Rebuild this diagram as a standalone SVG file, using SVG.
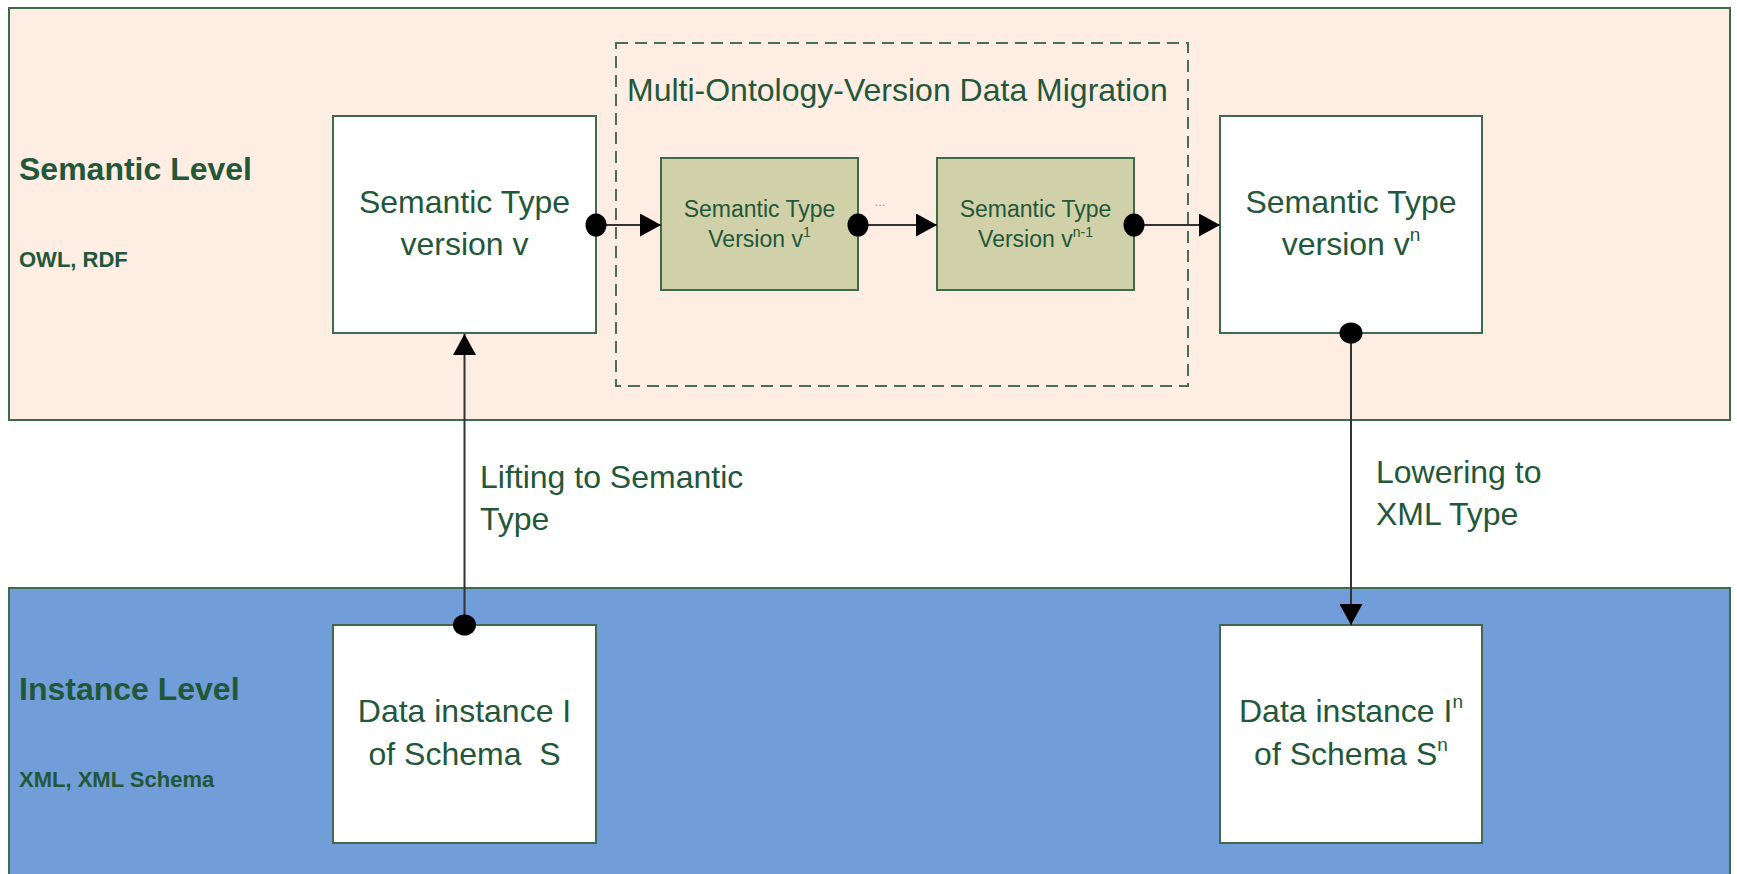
<svg xmlns="http://www.w3.org/2000/svg" width="1737" height="874" viewBox="0 0 1737 874">
<style>
.panel{stroke:#3f6a4c;stroke-width:2}
.box{fill:#ffffff;stroke:#3f6a4c;stroke-width:2}
.gbox{fill:#d1d1a9;stroke:#3f6a4c;stroke-width:2}
.t{font-family:"Liberation Sans",Arial,sans-serif;fill:#23573a}
.big{font-size:32px}
.mid{font-size:23px}
.lvl{font-size:32px;font-weight:bold}
.sub{font-size:22px;font-weight:bold}
.con{fill:none;stroke:#333333;stroke-width:2}
</style>
<defs>
<marker id="arrow" markerUnits="userSpaceOnUse" viewBox="0 0 21 23" markerWidth="21" markerHeight="23" refX="21" refY="11.5" orient="auto">
<path d="M0,0 L21,11.5 L0,23 z" fill="#000"/>
</marker>
<marker id="dot" markerUnits="userSpaceOnUse" viewBox="0 0 22 24" markerWidth="22" markerHeight="24" refX="11" refY="12" orient="auto">
<ellipse cx="11" cy="12" rx="10.5" ry="11.5" fill="#000"/>
</marker>
</defs>

<g id="semantic-level">
<rect class="panel" x="9" y="8" width="1721" height="412" fill="#fdede2"/>
<text class="t lvl" x="19" y="180">Semantic Level</text>
<text class="t sub" x="19" y="267">OWL, RDF</text>
</g>

<g id="instance-level">
<rect class="panel" x="9" y="588" width="1721" height="300" fill="#719ed9"/>
<text class="t lvl" x="19" y="700">Instance Level</text>
<text class="t sub" x="19" y="787">XML, XML Schema</text>
</g>

<g id="migration-group">
<rect x="616" y="43" width="572" height="343" fill="none" stroke="#4a6e55" stroke-width="2" stroke-dasharray="12,7"/>
<text class="t big" x="627" y="101">Multi-Ontology-Version Data Migration</text>
</g>

<g id="semantic-type-v">
<rect class="box" x="333" y="116" width="263" height="217"/>
<text class="t big" x="464.5" y="213" text-anchor="middle">Semantic Type</text>
<text class="t big" x="464.5" y="255" text-anchor="middle">version v</text>
</g>

<g id="semantic-type-v1">
<rect class="gbox" x="661" y="158" width="197" height="132"/>
<text class="t mid" x="759.5" y="217" text-anchor="middle">Semantic Type</text>
<text class="t mid" x="759.5" y="247" text-anchor="middle">Version v<tspan font-size="14" dy="-10">1</tspan></text>
</g>

<g id="semantic-type-vn-1">
<rect class="gbox" x="937" y="158" width="197" height="132"/>
<text class="t mid" x="1035.5" y="217" text-anchor="middle">Semantic Type</text>
<text class="t mid" x="1035.5" y="247" text-anchor="middle">Version v<tspan font-size="14" dy="-10">n-1</tspan></text>
</g>

<g id="semantic-type-vn">
<rect class="box" x="1220" y="116" width="262" height="217"/>
<text class="t big" x="1351" y="213" text-anchor="middle">Semantic Type</text>
<text class="t big" x="1351" y="255" text-anchor="middle">version v<tspan font-size="19" dy="-14">n</tspan></text>
</g>

<g id="data-instance-i">
<rect class="box" x="333" y="625" width="263" height="218"/>
<text class="t big" x="464.5" y="722" text-anchor="middle">Data instance I</text>
<text class="t big" x="464.5" y="765" text-anchor="middle" xml:space="preserve">of Schema  S</text>
</g>

<g id="data-instance-in">
<rect class="box" x="1220" y="625" width="262" height="218"/>
<text class="t big" x="1351" y="722" text-anchor="middle">Data instance I<tspan font-size="19" dy="-14">n</tspan></text>
<text class="t big" x="1351" y="765" text-anchor="middle">of Schema S<tspan font-size="19" dy="-14">n</tspan></text>
</g>

<g id="connectors">
<path class="con" d="M596,225 L661,225" marker-start="url(#dot)" marker-end="url(#arrow)"/>
<path class="con" d="M858,225 L937,225" marker-start="url(#dot)" marker-end="url(#arrow)"/>
<path class="con" d="M1134,225 L1220,225" marker-start="url(#dot)" marker-end="url(#arrow)"/>
<path class="con" d="M464.5,625 L464.5,334" stroke="#444" marker-start="url(#dot)" marker-end="url(#arrow)"/>
<path class="con" d="M1351,333 L1351,625" stroke="#444" marker-start="url(#dot)" marker-end="url(#arrow)"/>
<text x="880" y="206" font-family="Liberation Sans,Arial,sans-serif" font-size="13" fill="#9a9a9a" text-anchor="middle">...</text>
<text class="t big" x="480" y="488">Lifting to Semantic</text>
<text class="t big" x="480" y="530">Type</text>
<text class="t big" x="1376" y="483">Lowering to</text>
<text class="t big" x="1376" y="525">XML Type</text>
</g>
</svg>
